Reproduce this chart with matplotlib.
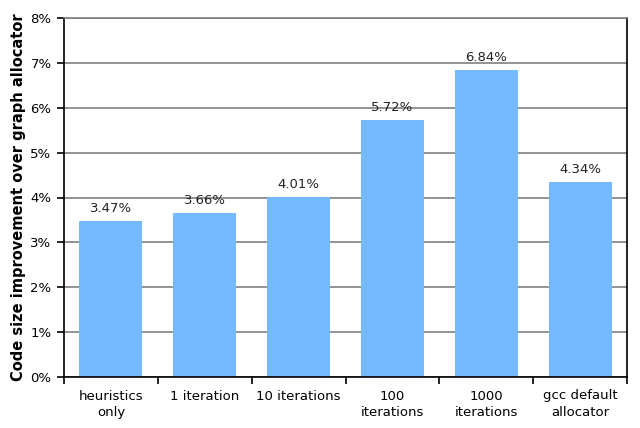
import matplotlib
matplotlib.use("Agg")
import matplotlib.pyplot as plt
import numpy as np

categories = ["heuristics\nonly", "1 iteration", "10 iterations",
              "100\niterations", "1000\niterations", "gcc default\nallocator"]
improvement = [3.47, 3.66, 4.01, 5.72, 6.84, 4.34]  # percent

plt.rcParams["font.family"] = "DejaVu Sans"

fig = plt.figure(figsize=(6.4, 4.28), dpi=100)
ax = fig.add_axes([64 / 640, 1 - 377 / 428, 563 / 640, 359 / 428])

x = np.arange(len(categories))
ax.bar(x, improvement, width=0.67, color="#75B9FF", zorder=2)

for xi, v in zip(x, improvement):
    ax.annotate(f"{v:.2f}%", (xi, v), xytext=(0, 4.5), textcoords="offset points",
                ha="center", va="bottom", fontsize=9.5, color="#222222")

ax.set_xlim(-0.5, len(categories) - 0.5)
ax.set_ylim(0, 8)
ax.set_yticks(np.arange(0, 9))
ax.set_yticklabels([f"{i}%" for i in range(9)], fontsize=9.5)
ax.yaxis.grid(True, color="#808080", linewidth=1.2, zorder=0)

# category names sit between the boundary ticks
ax.set_xticks(np.arange(-0.5, len(categories)), minor=False)
ax.set_xticklabels([])
ax.set_xticks(x, minor=True)
ax.set_xticklabels(categories, minor=True, fontsize=9.5, linespacing=1.35)
ax.tick_params(axis="x", which="minor", length=0, pad=9)
ax.tick_params(axis="x", which="major", length=5, width=1.2)
ax.tick_params(axis="y", length=5, width=1.2, pad=4)

for s in ax.spines.values():
    s.set_linewidth(1.2)
    s.set_color("black")
ax.spines["top"].set_color("#808080")

ax.set_ylabel("Code size improvement over graph allocator",
              fontsize=10.5, fontweight="bold", labelpad=3)

fig.savefig("out.png", dpi=100)
